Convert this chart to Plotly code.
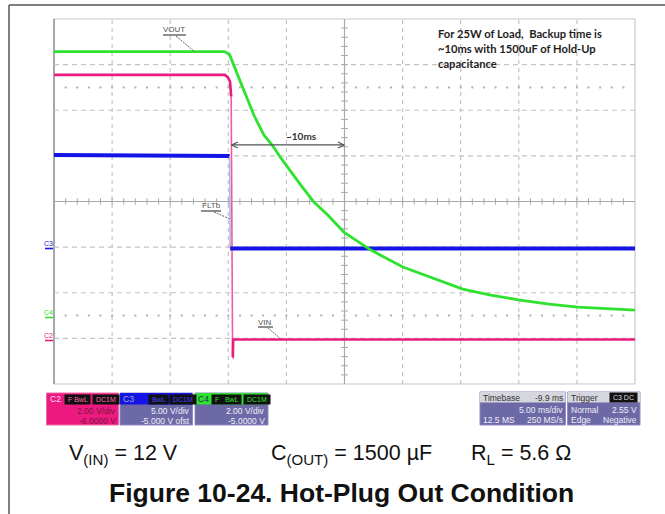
import plotly.graph_objects as go

# ---------------- scope settings ----------------
TIME_PER_DIV = 5.0          # ms/div
DELAY = -9.9                # ms (trigger left of centre)
N_XDIV, N_YDIV = 10, 8

ch_names = ["C2", "C3", "C4"]
ch_scale = [2.0, 5.0, 2.0]          # V/div
ch_offset = [-6.0, -5.0, -5.0]      # V
trig_level = 2.55                   # V on C3

# ---------------- captured waveforms (time in ms, volts) ----------------
# C2 : VIN
t_vin = [-15.1, -0.40, -0.15, 0.05, 0.15, 0.27, 0.29, 0.32, 34.9]
v_vin = [11.55, 11.55, 11.45, 11.25, 10.60, -0.82, -0.82, -0.05, -0.05]

# C3 : FLTb
t_flt = [-15.1, -0.05, 0.02, 0.06, 0.10, 34.9]
v_flt = [10.10, 10.10, 10.00, -0.15, -0.15, -0.15]

# C4 : VOUT
t_vout = [-15.1, -0.45, 0.00, 0.38, 0.98, 1.58, 2.10, 2.96, 3.74, 4.42, 5.28,
          6.14, 7.26, 8.46, 9.84, 11.31, 12.17, 14.92, 17.33, 20.08, 22.49,
          24.99, 27.49, 29.98, 34.9]
v_vout = [11.57, 11.57, 11.45, 10.99, 10.20, 9.45, 8.79, 7.92, 7.43, 6.91, 6.29,
          5.72, 4.98, 4.41, 3.66, 3.18, 2.87, 2.13, 1.69, 1.16, 0.90,
          0.68, 0.50, 0.37, 0.24]

# hold-up span marked on the screen (ms)
span_t = [0.2, 9.85]
span_level = 1.24           # div above centre

# ---------------- page geometry ----------------
W, H = 665, 514
L, R, T, B = 54, 635, 19, 384       # graticule box in px


def X(px):
    return px / W


def Y(py):
    return 1 - py / H


def to_div(vals, scale, offset):
    return [(v + offset) / scale for v in vals]


x_center = -DELAY
x_lo = x_center - TIME_PER_DIV * N_XDIV / 2
x_hi = x_center + TIME_PER_DIV * N_XDIV / 2
ms_per_px = TIME_PER_DIV * N_XDIV / (R - L)
div_per_px = N_YDIV / (B - T)

PINK = "#ec1a7f"
BLUE = "#1414e6"
GREEN = "#2fe22f"
GRID = "#c4c4c4"
PURPLE = "#6d69a6"
FONT = "Liberation Sans, Arial, sans-serif"

fig = go.Figure()

# graticule dotted rows
dot_t = [x_lo + k * TIME_PER_DIV / 5 for k in range(1, N_XDIV * 5)]
for yd in (2.5, -2.5):
    fig.add_trace(go.Scatter(x=dot_t, y=[yd] * len(dot_t), mode="markers",
                             marker=dict(size=2, color="#b0b0b0", symbol="square"),
                             hoverinfo="skip", showlegend=False))

# waveforms (edges drawn thinner, like the fast transitions on screen)
i_e2 = 4
fig.add_trace(go.Scatter(x=t_vin[:i_e2 + 1], y=to_div(v_vin[:i_e2 + 1], ch_scale[0], ch_offset[0]),
                         mode="lines", line=dict(color=PINK, width=2.6), showlegend=False))
fig.add_trace(go.Scatter(x=t_vin[i_e2:i_e2 + 2], y=to_div(v_vin[i_e2:i_e2 + 2], ch_scale[0], ch_offset[0]),
                         mode="lines", line=dict(color="#ef5aa0", width=1.6), showlegend=False))
fig.add_trace(go.Scatter(x=t_vin[i_e2 + 1:], y=to_div(v_vin[i_e2 + 1:], ch_scale[0], ch_offset[0]),
                         mode="lines", line=dict(color=PINK, width=2.6), showlegend=False))

i_e3 = 2
fig.add_trace(go.Scatter(x=t_flt[:i_e3 + 1], y=to_div(v_flt[:i_e3 + 1], ch_scale[1], ch_offset[1]),
                         mode="lines", line=dict(color=BLUE, width=4), showlegend=False))
fig.add_trace(go.Scatter(x=t_flt[i_e3:i_e3 + 2], y=to_div(v_flt[i_e3:i_e3 + 2], ch_scale[1], ch_offset[1]),
                         mode="lines", line=dict(color="#b4b4ea", width=1.6), showlegend=False))
fig.add_trace(go.Scatter(x=t_flt[i_e3 + 1:], y=to_div(v_flt[i_e3 + 1:], ch_scale[1], ch_offset[1]),
                         mode="lines", line=dict(color=BLUE, width=4), showlegend=False))

fig.add_trace(go.Scatter(x=t_vout, y=to_div(v_vout, ch_scale[2], ch_offset[2]),
                         mode="lines", line=dict(color=GREEN, width=2.8), showlegend=False))

# trigger markers
fig.add_trace(go.Scatter(x=[x_hi + 0.3], y=to_div([trig_level], ch_scale[1], ch_offset[1]),
                         mode="markers", marker=dict(symbol="triangle-left", size=8, color=BLUE),
                         cliponaxis=False, showlegend=False))
fig.add_trace(go.Scatter(x=[0.0], y=[-4.09], mode="markers",
                         marker=dict(symbol="triangle-up", size=6, color=BLUE),
                         cliponaxis=False, showlegend=False))

shapes = []
# graticule
for k in range(1, N_XDIV):
    xv = x_lo + k * TIME_PER_DIV
    centre = (k == N_XDIV // 2)
    shapes.append(dict(type="line", xref="x", yref="y", x0=xv, x1=xv, y0=-4, y1=4,
                       line=dict(color="#a8a8a8" if centre else GRID, width=1.2,
                                 dash="solid" if centre else "4px,4px"), layer="below"))
for k in range(1, N_YDIV):
    yv = -4 + k
    centre = (k == N_YDIV // 2)
    shapes.append(dict(type="line", xref="x", yref="y", x0=x_lo, x1=x_hi, y0=yv, y1=yv,
                       line=dict(color="#a8a8a8" if centre else GRID, width=1.2,
                                 dash="solid" if centre else "5px,4px"), layer="below"))
# minor ticks on centre lines
for j in range(1, N_XDIV * 5):
    xv = x_lo + j * TIME_PER_DIV / 5
    shapes.append(dict(type="line", xref="x", yref="y", x0=xv, x1=xv, y0=-0.07, y1=0.07,
                       line=dict(color="#a8a8a8", width=1), layer="below"))
for j in range(1, N_YDIV * 5):
    yv = -4 + j * 0.2
    shapes.append(dict(type="line", xref="x", yref="y", x0=x_center - 0.3, x1=x_center + 0.3,
                       y0=yv, y1=yv, line=dict(color="#a8a8a8", width=1), layer="below"))
# graticule frame
shapes.append(dict(type="rect", xref="paper", yref="paper", x0=X(L), x1=X(R), y0=Y(B), y1=Y(T),
                   line=dict(color="#c8c8c8", width=1.2), layer="below"))
shapes.append(dict(type="line", xref="paper", yref="paper", x0=X(L), x1=X(L), y0=Y(B), y1=Y(T),
                   line=dict(color="#9a9a9a", width=1.6), layer="below"))
# page frame
shapes.append(dict(type="line", xref="paper", yref="paper", x0=X(9), x1=X(9), y0=0, y1=Y(5),
                   line=dict(color="#555", width=1.5)))
shapes.append(dict(type="line", xref="paper", yref="paper", x0=X(9), x1=1, y0=Y(5), y1=Y(5),
                   line=dict(color="#555", width=1.5)))


def seg(x0, y0, x1, y1, color, width=1, dash="solid"):
    shapes.append(dict(type="line", xref="paper", yref="paper", x0=X(x0), x1=X(x1), y0=Y(y0), y1=Y(y1),
                       line=dict(color=color, width=width, dash=dash)))


# label leader lines and underlines
for (x0, y0, x1, y1) in [(176, 36, 195, 52), (214, 212, 230, 219), (268, 328, 281, 339)]:
    seg(x0, y0, x1, y1, "#666", 1, "2px,1px")
seg(163, 35, 186, 35, "#444", 1.2)
seg(201, 211, 221, 211, "#444", 1.2)
seg(258, 327, 273, 327, "#444", 1.2)
seg(45, 248.5, 53, 248.5, BLUE, 1.6)
seg(45, 317.5, 53, 317.5, GREEN, 1.6)
seg(45, 340.5, 53, 340.5, PINK, 1.6)

# ~10ms span: shaft plus open arrow heads at both ends
ARW = "#555"
shapes.append(dict(type="line", xref="x", yref="y", x0=span_t[0], x1=span_t[1],
                   y0=span_level, y1=span_level, line=dict(color=ARW, width=1.3)))
hx, hy = 6 * ms_per_px, 3 * div_per_px
for tip, sgn in ((span_t[0], 1), (span_t[1], -1)):
    shapes.append(dict(type="path", xref="x", yref="y",
                       path="M %f,%f L %f,%f L %f,%f" % (tip + sgn * hx, span_level + hy, tip, span_level,
                                                         tip + sgn * hx, span_level - hy),
                       line=dict(color=ARW, width=1.2)))

ann = []


def text(x, y, s, size=8, color="#333", xa="left", ya="middle", bold=False, bg=None,
         family=FONT, pad=0):
    ann.append(dict(x=X(x), y=Y(y), xref="paper", yref="paper", text=s, showarrow=False,
                    xanchor=xa, yanchor=ya, bgcolor=bg, borderpad=pad,
                    font=dict(size=size, color=color, family=family,
                              weight="bold" if bold else "normal")))


# trace labels
text(174, 29.5, "VOUT", 8, "#555", "center")
text(211, 205.5, "FLTb", 8, "#555", "center")
text(265, 322, "VIN", 8, "#555", "center")
# ground markers
text(49, 243.5, "C3", 7, BLUE, "center")
text(49, 312.5, "C4", 7, GREEN, "center")
text(49, 335.5, "C2", 7, PINK, "center")

# note
note = ["For 25W of Load,  Backup time is", "~10ms with 1500uF of Hold-Up", "capacitance"]
for i, line in enumerate(note):
    text(437, 33 + 15 * i, line, 11.2, "#1e1e1e", bold=True, family="Lato, sans-serif")

text(301, 136, "~10ms", 10, "#333", "center", bold=True, family="Lato, sans-serif")


# ---------------- channel / timebase boxes ----------------
def box(x0, y0, x1, y1, fill, line="#8f8cc0"):
    shapes.append(dict(type="rect", xref="paper", yref="paper", x0=X(x0), x1=X(x1),
                       y0=Y(y1), y1=Y(y0), fillcolor=fill, line=dict(color=line, width=1)))


BODY = "#eeeef8"
# C2
box(46.5, 393, 118.5, 425, PINK, "#f06aa8")
text(49, 399, "C2", 8.5, "#fde", "left")
text(64, 399, " F BwL ", 7, "#f6a", "left", bg="#111", pad=1)
text(92, 399, " DC1M ", 7, "#f6a", "left", bg="#111", pad=1)
text(117, 411, "2.00 V/div", 8.5, "#7a1540", "right")
text(117, 421, "-6.0000 V", 8.5, "#7a1540", "right")
# C3
box(120, 393, 192.5, 425, PURPLE)
box(120.5, 393.5, 192, 404, BLUE, BLUE)
text(122, 399, "C3", 8.5, "#aab", "left")
text(148, 399, " BwL ", 7, "#44f", "left", bg="#111", pad=1)
text(169, 399, " DC1M ", 7, "#44f", "left", bg="#111", pad=1)
text(191, 411, "5.00 V/div", 8.5, BODY, "right")
text(191, 421, "-5.000 V ofst", 8.5, BODY, "right")
# C4
box(195, 393, 268, 425, PURPLE)
box(195.5, 393.5, 267.5, 404, GREEN, GREEN)
text(197, 399, "C4", 8.5, "#135", "left")
text(211, 399, " F ", 7, GREEN, "left", bg="#111", pad=1)
text(221, 399, " BwL ", 7, GREEN, "left", bg="#111", pad=1)
text(243, 399, " DC1M ", 7, GREEN, "left", bg="#111", pad=1)
text(266, 411, "2.00 V/div", 8.5, BODY, "right")
text(266, 421, "-5.0000 V", 8.5, BODY, "right")
# Timebase
box(480, 392, 565.5, 425, PURPLE)
box(480.5, 392.5, 565, 402, "#d6d6de", "#d6d6de")
text(482, 397.5, "Timebase", 8.5, "#333", "left")
text(564, 397.5, "%.1f ms" % DELAY, 8.5, "#333", "right")
text(564, 410, "%.2f ms/div" % TIME_PER_DIV, 8.5, BODY, "right")
text(482, 420, "12.5 MS", 8.5, BODY, "left")
text(564, 420, "250 MS/s", 8.5, BODY, "right")
# Trigger
box(567.5, 392, 640, 425, PURPLE)
box(568, 392.5, 639.5, 402, "#d6d6de", "#d6d6de")
text(569.5, 397.5, "Trigger", 8.5, "#333", "left")
text(638, 397.5, " C3 DC ", 7, "#ddd", "right", bg="#111", pad=1)
text(569.5, 410, "Normal", 8.5, BODY, "left")
text(638, 410, "%.2f V" % trig_level, 8.5, BODY, "right")
text(569.5, 420, "Edge", 8.5, BODY, "left")
text(638, 420, "Negative", 8.5, BODY, "right")

# ---------------- test conditions & caption ----------------
text(68, 454, "V<sub>(IN)</sub> = 12 V", 21.5, "#111", "left")
text(270, 454, "C<sub>(OUT)</sub> = 1500 µF", 21.5, "#111", "left")
text(470, 454, "R<sub>L</sub> = 5.6 Ω", 21.5, "#111", "left")
text(341, 493, "Figure 10-24. Hot-Plug Out Condition", 26.5, "#111", "center", bold=True)

fig.update_layout(
    width=W, height=H, margin=dict(l=0, r=0, t=0, b=0),
    paper_bgcolor="white", plot_bgcolor="white",
    xaxis=dict(range=[x_lo, x_hi], domain=[X(L), X(R)], showgrid=False, zeroline=False,
               showticklabels=False, showline=False, fixedrange=True),
    yaxis=dict(range=[-N_YDIV / 2, N_YDIV / 2], domain=[Y(B), Y(T)], showgrid=False,
               zeroline=False, showticklabels=False, showline=False, fixedrange=True),
    shapes=shapes, annotations=ann, showlegend=False,
)

fig.write_html("out.html")
